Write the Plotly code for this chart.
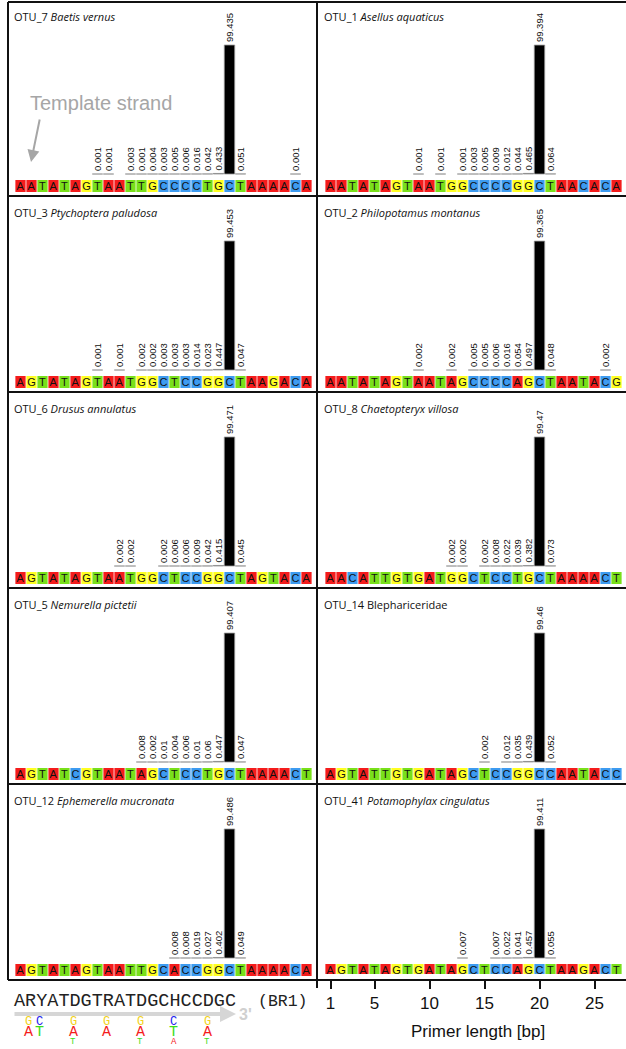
import plotly.graph_objects as go

W, H = 626, 1049

# ---------------- data ----------------
otu_ids = ["OTU_7", "OTU_1", "OTU_3", "OTU_2", "OTU_6",
           "OTU_8", "OTU_5", "OTU_14", "OTU_12", "OTU_41"]
taxa = ["Baetis vernus", "Asellus aquaticus", "Ptychoptera paludosa",
        "Philopotamus montanus", "Drusus annulatus", "Chaetopteryx villosa",
        "Nemurella pictetii", "Blephariceridae", "Ephemerella mucronata",
        "Potamophylax cingulatus"]
taxa_italic = [True, True, True, True, True, True, True, False, True, True]

sequences = [
    "AATATAGTAATTGCCCCTGCTAAAACA",
    "AATATAGTAATGGCCCCGGCTAACACA",
    "AGTATAGTAATGGCTCCGGCTAAGACA",
    "AATATAGTAATAGCCCCAGCTAATACG",
    "AGTATAGTAATGGCTCCGGCTAGTACA",
    "AACATTGTGATGGCTCCTGCTAAAACT",
    "AGTATCGTAATAGCTCCTGCTAAAACT",
    "AGTATTGTGATAGCTCCGGCCAATACC",
    "AGTATAGTAATTGCACCGGCTAAAACA",
    "AGTATAGTGATAGCTCCAGCTAAGACT",
]

bar_positions = [
    [8, 9, 11, 12, 13, 14, 15, 16, 17, 18, 19, 20, 21, 26],
    [9, 11, 13, 14, 15, 16, 17, 18, 19, 20, 21],
    [8, 10, 12, 13, 14, 15, 16, 17, 18, 19, 20, 21],
    [9, 12, 14, 15, 16, 17, 18, 19, 20, 21, 26],
    [10, 11, 14, 15, 16, 17, 18, 19, 20, 21],
    [12, 13, 15, 16, 17, 18, 19, 20, 21],
    [12, 13, 14, 15, 16, 17, 18, 19, 20, 21],
    [15, 17, 18, 19, 20, 21],
    [15, 16, 17, 18, 19, 20, 21],
    [13, 16, 17, 18, 19, 20, 21],
]
bar_values = [
    [0.001, 0.001, 0.003, 0.001, 0.004, 0.003, 0.005, 0.006, 0.016, 0.042, 0.433, 99.435, 0.051, 0.001],
    [0.001, 0.001, 0.001, 0.003, 0.005, 0.009, 0.012, 0.044, 0.465, 99.394, 0.064],
    [0.001, 0.001, 0.002, 0.002, 0.003, 0.003, 0.003, 0.014, 0.023, 0.447, 99.453, 0.047],
    [0.002, 0.002, 0.005, 0.005, 0.006, 0.016, 0.054, 0.497, 99.365, 0.048, 0.002],
    [0.002, 0.002, 0.002, 0.006, 0.006, 0.009, 0.042, 0.415, 99.471, 0.045],
    [0.002, 0.002, 0.002, 0.008, 0.022, 0.039, 0.382, 99.47, 0.073],
    [0.008, 0.002, 0.01, 0.004, 0.006, 0.01, 0.06, 0.447, 99.407, 0.047],
    [0.002, 0.012, 0.035, 0.439, 99.46, 0.052],
    [0.008, 0.008, 0.019, 0.027, 0.402, 99.486, 0.049],
    [0.007, 0.007, 0.022, 0.041, 0.457, 99.411, 0.055],
]

primer_seq = "ARYATDGTRATDGCHCCDGC"
primer_name = "(BR1)"
degenerate_positions = [2, 3, 6, 9, 12, 15, 18]
degenerate_bases = [["G", "A"], ["C", "T"], ["G", "A", "T"], ["G", "A"],
                    ["G", "A", "T"], ["C", "T", "A"], ["G", "A", "T"]]
axis_ticks = [1, 5, 10, 15, 20, 25]
axis_title = "Primer length [bp]"

base_colors = {"A": "#F41C1C", "T": "#79E01A", "G": "#FFFF22", "C": "#3D9BF0"}
stack_colors = {"A": "#F41C1C", "T": "#3CDC1C", "G": "#F2D21A", "C": "#1C1CF0"}

# ---------------- geometry (pixels) ----------------
ROW_H = 196
COL_X = [(15, 312), (325, 622)]
TOP_OFF, ZERO_OFF, BOT_OFF = 3, 174, 194
PX_PER_UNIT = 1.297
SEQ_TOP, SEQ_BOT = 6, 18
N_POS = 27


def px(xp):
    return xp / W


def py(yp):
    return 1 - yp / H


fig = go.Figure()
layout_axes = {}
annotations = []
shapes = []

y_lo = -(BOT_OFF - ZERO_OFF) / PX_PER_UNIT
y_hi = (ZERO_OFF - TOP_OFF) / PX_PER_UNIT

for i in range(len(otu_ids)):
    r, c = divmod(i, 2)
    n = i + 1
    xa = "x" if n == 1 else f"x{n}"
    ya = "y" if n == 1 else f"y{n}"
    xkey = "xaxis" if n == 1 else f"xaxis{n}"
    ykey = "yaxis" if n == 1 else f"yaxis{n}"
    row_top = r * ROW_H
    x0, x1 = COL_X[c]
    layout_axes[xkey] = dict(domain=[px(x0), px(x1)], range=[0.5, N_POS + 0.5],
                             visible=False, anchor=ya, fixedrange=True)
    layout_axes[ykey] = dict(domain=[py(row_top + BOT_OFF), py(row_top + TOP_OFF)],
                             range=[y_lo, y_hi], visible=False, anchor=xa, fixedrange=True)

    seq = sequences[i]
    pos = list(range(1, len(seq) + 1))
    fig.add_trace(go.Bar(
        x=pos, y=[(SEQ_BOT - SEQ_TOP) / PX_PER_UNIT] * len(seq),
        base=-SEQ_BOT / PX_PER_UNIT, width=0.93,
        marker=dict(color=[base_colors[b] for b in seq], line=dict(width=0)),
        text=list(seq), textposition="inside", insidetextanchor="middle",
        textangle=0, constraintext="none",
        textfont=dict(size=11, color="#111111", family="Liberation Sans"),
        xaxis=xa, yaxis=ya, hoverinfo="skip", showlegend=False))

    fig.add_trace(go.Bar(
        x=bar_positions[i], y=bar_values[i], width=0.95,
        marker=dict(color="black", line=dict(color="#9a9a9a", width=0.8)),
        text=[str(v) for v in bar_values[i]], textposition="outside",
        textangle=-90, constraintext="none", cliponaxis=False,
        textfont=dict(size=9.5, color="#111111", family="Liberation Sans"),
        xaxis=xa, yaxis=ya, hoverinfo="skip", showlegend=False))

    name = f"<i>{taxa[i]}</i>" if taxa_italic[i] else taxa[i]
    annotations.append(dict(
        text=f"{otu_ids[i]} {name}", xref="paper", yref="paper",
        x=px(12 if c == 0 else 322), y=py(row_top + 16),
        xanchor="left", yanchor="middle", showarrow=False,
        font=dict(size=11, family="Open Sans", color="#111111")))

# template strand note
annotations.append(dict(text="Template strand", xref="paper", yref="paper",
                        x=px(28), y=py(103), xanchor="left", yanchor="middle",
                        showarrow=False,
                        font=dict(size=20, family="Liberation Sans", color="#a6a6a6")))
annotations.append(dict(text="", xref="paper", yref="paper",
                        x=px(31), y=py(162), ax=9, ay=-44,
                        showarrow=True, arrowhead=2, arrowsize=1.2,
                        arrowwidth=2, arrowcolor="#a6a6a6"))

# frame lines
LINE_C = "#111111"
for yl in [2, 196, 392, 588, 784, 980]:
    shapes.append(dict(type="line", xref="paper", yref="paper",
                       x0=px(8), x1=px(626), y0=py(yl), y1=py(yl),
                       line=dict(color=LINE_C, width=2)))
for xl in [8, 317]:
    shapes.append(dict(type="line", xref="paper", yref="paper",
                       x0=px(xl), x1=px(xl), y0=py(2), y1=py(988 if xl == 317 else 980),
                       line=dict(color=LINE_C, width=2)))

# bottom axis (invisible carrier trace so the axis gets drawn)
fig.add_trace(go.Scatter(x=axis_ticks, y=[0.5] * len(axis_ticks), mode="markers",
                         marker=dict(opacity=0), xaxis="x11", yaxis="y11",
                         hoverinfo="skip", showlegend=False))
layout_axes["xaxis11"] = dict(domain=[px(COL_X[1][0]), px(COL_X[1][1])],
                              range=[0.5, N_POS + 0.5], anchor="y11",
                              tickvals=axis_ticks, ticks="outside", ticklen=8,
                              tickwidth=1.5, tickcolor="#111111",
                              showline=False, showgrid=False, zeroline=False,
                              tickfont=dict(size=17, family="Liberation Sans", color="#111111"),
                              fixedrange=True)
layout_axes["yaxis11"] = dict(domain=[py(980), py(974)], range=[0, 1],
                              visible=False, anchor="x11", fixedrange=True)

annotations.append(dict(text=axis_title, xref="paper", yref="paper",
                        x=px(478), y=py(1031), xanchor="center", yanchor="middle",
                        showarrow=False,
                        font=dict(size=17, family="Liberation Sans", color="#111111")))

# primer text
annotations.append(dict(text=primer_seq, xref="paper", yref="paper",
                        x=px(12), y=py(1001), xanchor="left", yanchor="middle",
                        showarrow=False,
                        font=dict(size=18.5, family="Liberation Mono", color="#222222")))
annotations.append(dict(text=primer_name, xref="paper", yref="paper",
                        x=px(256), y=py(1001), xanchor="left", yanchor="middle",
                        showarrow=False,
                        font=dict(size=16.5, family="Liberation Mono", color="#222222")))
annotations.append(dict(text="", xref="paper", yref="paper",
                        x=px(236), y=py(1014), ax=-223, ay=0,
                        showarrow=True, arrowhead=2, arrowsize=0.8,
                        arrowwidth=4, arrowcolor="#d6d6d6"))
annotations.append(dict(text="<b>3'</b>", xref="paper", yref="paper",
                        x=px(237), y=py(1015), xanchor="left", yanchor="middle",
                        showarrow=False,
                        font=dict(size=16, family="Liberation Sans", color="#d0d0d0")))

CHAR_W = 11.15
stack_y = [1022, 1032, 1042]
stack_size = [12, 15, 9]
for p, bases in zip(degenerate_positions, degenerate_bases):
    xc = 12 + (p - 0.5) * CHAR_W
    for k, b in enumerate(bases):
        annotations.append(dict(text=b, xref="paper", yref="paper",
                                x=px(xc), y=py(stack_y[k]), xanchor="center",
                                yanchor="middle", showarrow=False,
                                font=dict(size=stack_size[k], family="Liberation Mono",
                                          color=stack_colors[b])))

fig.update_layout(width=W, height=H, margin=dict(l=0, r=0, t=0, b=0),
                  paper_bgcolor="white", plot_bgcolor="white",
                  barmode="overlay", showlegend=False,
                  annotations=annotations, shapes=shapes, **layout_axes)

fig.write_html("out.html", config={"displayModeBar": False},
               post_script="document.body.style.margin='0px';"
                           "document.body.style.overflow='hidden';")
